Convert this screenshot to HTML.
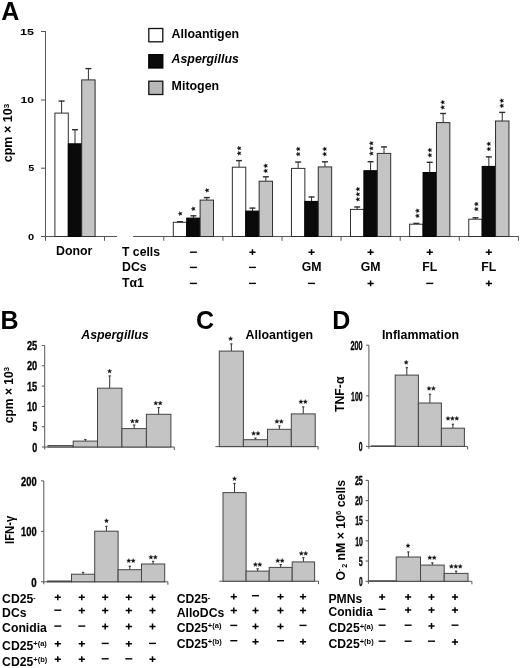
<!DOCTYPE html>
<html><head><meta charset="utf-8"><title>Figure</title>
<style>
html,body{margin:0;padding:0;background:#fff;}
body{width:520px;height:668px;overflow:hidden;}
svg{display:block;will-change:transform;}
text{font-family:"Liberation Sans",sans-serif;fill:#000;}
</style></head><body>
<svg width="520" height="668" viewBox="0 0 520 668">
<rect width="520" height="668" fill="#fff"/>
<text x="1.20" y="20.20" font-size="25" text-anchor="start" font-weight="bold" font-style="normal">A</text>
<line x1="45.50" y1="31.00" x2="45.50" y2="240.80" stroke="#555" stroke-width="1"/>
<line x1="41.00" y1="31.50" x2="45.50" y2="31.50" stroke="#555" stroke-width="1"/>
<line x1="41.00" y1="100.00" x2="45.50" y2="100.00" stroke="#555" stroke-width="1"/>
<line x1="41.00" y1="168.20" x2="45.50" y2="168.20" stroke="#555" stroke-width="1"/>
<line x1="41.00" y1="236.50" x2="45.50" y2="236.50" stroke="#555" stroke-width="1"/>
<text x="34.00" y="34.60" font-size="8.9" text-anchor="end" font-weight="bold" font-style="normal" textLength="13.90" lengthAdjust="spacingAndGlyphs">15</text>
<text x="34.00" y="103.20" font-size="8.9" text-anchor="end" font-weight="bold" font-style="normal" textLength="13.40" lengthAdjust="spacingAndGlyphs">10</text>
<text x="34.20" y="171.20" font-size="8.8" text-anchor="end" font-weight="bold" font-style="normal" textLength="6.00" lengthAdjust="spacingAndGlyphs">5</text>
<text x="34.20" y="239.60" font-size="8.8" text-anchor="end" font-weight="bold" font-style="normal" textLength="6.20" lengthAdjust="spacingAndGlyphs">0</text>
<line x1="41.00" y1="236.50" x2="117.00" y2="236.50" stroke="#555" stroke-width="1"/>
<line x1="104.50" y1="236.50" x2="104.50" y2="240.80" stroke="#555" stroke-width="1"/>
<line x1="133.00" y1="236.50" x2="518.50" y2="236.50" stroke="#555" stroke-width="1"/>
<line x1="163.80" y1="236.50" x2="163.80" y2="240.80" stroke="#555" stroke-width="1"/>
<line x1="222.90" y1="236.50" x2="222.90" y2="240.80" stroke="#555" stroke-width="1"/>
<line x1="282.00" y1="236.50" x2="282.00" y2="240.80" stroke="#555" stroke-width="1"/>
<line x1="341.10" y1="236.50" x2="341.10" y2="240.80" stroke="#555" stroke-width="1"/>
<line x1="400.20" y1="236.50" x2="400.20" y2="240.80" stroke="#555" stroke-width="1"/>
<line x1="459.30" y1="236.50" x2="459.30" y2="240.80" stroke="#555" stroke-width="1"/>
<line x1="518.40" y1="236.50" x2="518.40" y2="240.80" stroke="#555" stroke-width="1"/>
<text transform="translate(12.1,162.3) rotate(-90)" font-size="12.2" font-weight="bold" textLength="58.4" lengthAdjust="spacingAndGlyphs">cpm × 10<tspan font-size="7.8" dy="-3.4">3</tspan></text>
<line x1="61.60" y1="113.10" x2="61.60" y2="100.70" stroke="#2e2e2e" stroke-width="1"/>
<line x1="58.60" y1="101.10" x2="64.60" y2="101.10" stroke="#2e2e2e" stroke-width="1.4"/>
<rect x="54.90" y="113.10" width="13.40" height="123.40" fill="#ffffff" stroke="#2e2e2e" stroke-width="1"/>
<line x1="75.00" y1="143.80" x2="75.00" y2="129.30" stroke="#2e2e2e" stroke-width="1"/>
<line x1="72.00" y1="129.70" x2="78.00" y2="129.70" stroke="#2e2e2e" stroke-width="1.4"/>
<rect x="68.30" y="143.80" width="13.40" height="92.70" fill="#0a0a0a" stroke="#000" stroke-width="1"/>
<line x1="88.40" y1="79.90" x2="88.40" y2="68.20" stroke="#2e2e2e" stroke-width="1"/>
<line x1="85.40" y1="68.60" x2="91.40" y2="68.60" stroke="#2e2e2e" stroke-width="1.4"/>
<rect x="81.70" y="79.90" width="13.40" height="156.60" fill="#c4c4c4" stroke="#2e2e2e" stroke-width="1"/>
<line x1="180.00" y1="222.30" x2="180.00" y2="221.30" stroke="#2e2e2e" stroke-width="1"/>
<line x1="177.00" y1="221.70" x2="183.00" y2="221.70" stroke="#2e2e2e" stroke-width="1.4"/>
<rect x="173.30" y="222.30" width="13.40" height="14.20" fill="#ffffff" stroke="#2e2e2e" stroke-width="1"/>
<line x1="193.40" y1="218.10" x2="193.40" y2="215.40" stroke="#2e2e2e" stroke-width="1"/>
<line x1="190.40" y1="215.80" x2="196.40" y2="215.80" stroke="#2e2e2e" stroke-width="1.4"/>
<rect x="186.70" y="218.10" width="13.40" height="18.40" fill="#0a0a0a" stroke="#000" stroke-width="1"/>
<line x1="206.80" y1="200.10" x2="206.80" y2="197.20" stroke="#2e2e2e" stroke-width="1"/>
<line x1="203.80" y1="197.60" x2="209.80" y2="197.60" stroke="#2e2e2e" stroke-width="1.4"/>
<rect x="200.10" y="200.10" width="13.40" height="36.40" fill="#c4c4c4" stroke="#2e2e2e" stroke-width="1"/>
<line x1="239.05" y1="167.20" x2="239.05" y2="160.20" stroke="#2e2e2e" stroke-width="1"/>
<line x1="236.05" y1="160.60" x2="242.05" y2="160.60" stroke="#2e2e2e" stroke-width="1.4"/>
<rect x="232.35" y="167.20" width="13.40" height="69.30" fill="#ffffff" stroke="#2e2e2e" stroke-width="1"/>
<line x1="252.45" y1="211.10" x2="252.45" y2="207.70" stroke="#2e2e2e" stroke-width="1"/>
<line x1="249.45" y1="208.10" x2="255.45" y2="208.10" stroke="#2e2e2e" stroke-width="1.4"/>
<rect x="245.75" y="211.10" width="13.40" height="25.40" fill="#0a0a0a" stroke="#000" stroke-width="1"/>
<line x1="265.85" y1="181.20" x2="265.85" y2="176.40" stroke="#2e2e2e" stroke-width="1"/>
<line x1="262.85" y1="176.80" x2="268.85" y2="176.80" stroke="#2e2e2e" stroke-width="1.4"/>
<rect x="259.15" y="181.20" width="13.40" height="55.30" fill="#c4c4c4" stroke="#2e2e2e" stroke-width="1"/>
<line x1="298.15" y1="168.40" x2="298.15" y2="161.70" stroke="#2e2e2e" stroke-width="1"/>
<line x1="295.15" y1="162.10" x2="301.15" y2="162.10" stroke="#2e2e2e" stroke-width="1.4"/>
<rect x="291.45" y="168.40" width="13.40" height="68.10" fill="#ffffff" stroke="#2e2e2e" stroke-width="1"/>
<line x1="311.55" y1="201.40" x2="311.55" y2="196.60" stroke="#2e2e2e" stroke-width="1"/>
<line x1="308.55" y1="197.00" x2="314.55" y2="197.00" stroke="#2e2e2e" stroke-width="1.4"/>
<rect x="304.85" y="201.40" width="13.40" height="35.10" fill="#0a0a0a" stroke="#000" stroke-width="1"/>
<line x1="324.95" y1="166.90" x2="324.95" y2="161.40" stroke="#2e2e2e" stroke-width="1"/>
<line x1="321.95" y1="161.80" x2="327.95" y2="161.80" stroke="#2e2e2e" stroke-width="1.4"/>
<rect x="318.25" y="166.90" width="13.40" height="69.60" fill="#c4c4c4" stroke="#2e2e2e" stroke-width="1"/>
<line x1="357.20" y1="209.40" x2="357.20" y2="206.60" stroke="#2e2e2e" stroke-width="1"/>
<line x1="354.20" y1="207.00" x2="360.20" y2="207.00" stroke="#2e2e2e" stroke-width="1.4"/>
<rect x="350.50" y="209.40" width="13.40" height="27.10" fill="#ffffff" stroke="#2e2e2e" stroke-width="1"/>
<line x1="370.60" y1="170.70" x2="370.60" y2="161.30" stroke="#2e2e2e" stroke-width="1"/>
<line x1="367.60" y1="161.70" x2="373.60" y2="161.70" stroke="#2e2e2e" stroke-width="1.4"/>
<rect x="363.90" y="170.70" width="13.40" height="65.80" fill="#0a0a0a" stroke="#000" stroke-width="1"/>
<line x1="384.00" y1="153.40" x2="384.00" y2="146.50" stroke="#2e2e2e" stroke-width="1"/>
<line x1="381.00" y1="146.90" x2="387.00" y2="146.90" stroke="#2e2e2e" stroke-width="1.4"/>
<rect x="377.30" y="153.40" width="13.40" height="83.10" fill="#c4c4c4" stroke="#2e2e2e" stroke-width="1"/>
<line x1="416.35" y1="224.20" x2="416.35" y2="223.00" stroke="#2e2e2e" stroke-width="1"/>
<line x1="413.35" y1="223.40" x2="419.35" y2="223.40" stroke="#2e2e2e" stroke-width="1.4"/>
<rect x="409.65" y="224.20" width="13.40" height="12.30" fill="#ffffff" stroke="#2e2e2e" stroke-width="1"/>
<line x1="429.75" y1="172.50" x2="429.75" y2="161.90" stroke="#2e2e2e" stroke-width="1"/>
<line x1="426.75" y1="162.30" x2="432.75" y2="162.30" stroke="#2e2e2e" stroke-width="1.4"/>
<rect x="423.05" y="172.50" width="13.40" height="64.00" fill="#0a0a0a" stroke="#000" stroke-width="1"/>
<line x1="443.15" y1="122.60" x2="443.15" y2="113.10" stroke="#2e2e2e" stroke-width="1"/>
<line x1="440.15" y1="113.50" x2="446.15" y2="113.50" stroke="#2e2e2e" stroke-width="1.4"/>
<rect x="436.45" y="122.60" width="13.40" height="113.90" fill="#c4c4c4" stroke="#2e2e2e" stroke-width="1"/>
<line x1="475.45" y1="219.20" x2="475.45" y2="217.40" stroke="#2e2e2e" stroke-width="1"/>
<line x1="472.45" y1="217.80" x2="478.45" y2="217.80" stroke="#2e2e2e" stroke-width="1.4"/>
<rect x="468.75" y="219.20" width="13.40" height="17.30" fill="#ffffff" stroke="#2e2e2e" stroke-width="1"/>
<line x1="488.85" y1="166.40" x2="488.85" y2="156.50" stroke="#2e2e2e" stroke-width="1"/>
<line x1="485.85" y1="156.90" x2="491.85" y2="156.90" stroke="#2e2e2e" stroke-width="1.4"/>
<rect x="482.15" y="166.40" width="13.40" height="70.10" fill="#0a0a0a" stroke="#000" stroke-width="1"/>
<line x1="502.25" y1="121.00" x2="502.25" y2="112.00" stroke="#2e2e2e" stroke-width="1"/>
<line x1="499.25" y1="112.40" x2="505.25" y2="112.40" stroke="#2e2e2e" stroke-width="1.4"/>
<rect x="495.55" y="121.00" width="13.40" height="115.50" fill="#c4c4c4" stroke="#2e2e2e" stroke-width="1"/>
<polygon points="178.10,213.60 179.49,213.01 179.62,211.51 180.61,212.65 182.08,212.31 181.30,213.60 182.08,214.89 180.61,214.55 179.62,215.69 179.49,214.19" fill="#111" stroke="#111" stroke-width="0.35" stroke-linejoin="round"/>
<polygon points="191.20,208.80 192.59,208.21 192.72,206.71 193.71,207.85 195.18,207.51 194.40,208.80 195.18,210.09 193.71,209.75 192.72,210.89 192.59,209.39" fill="#111" stroke="#111" stroke-width="0.35" stroke-linejoin="round"/>
<polygon points="204.90,190.30 206.29,189.71 206.42,188.21 207.41,189.35 208.88,189.01 208.10,190.30 208.88,191.59 207.41,191.25 206.42,192.39 206.29,190.89" fill="#111" stroke="#111" stroke-width="0.35" stroke-linejoin="round"/>
<polygon points="237.00,148.20 238.39,147.61 238.52,146.11 239.51,147.25 240.98,146.91 240.20,148.20 240.98,149.49 239.51,149.15 238.52,150.29 238.39,148.79" fill="#111" stroke="#111" stroke-width="0.35" stroke-linejoin="round"/>
<polygon points="237.00,153.30 238.39,152.71 238.52,151.21 239.51,152.35 240.98,152.01 240.20,153.30 240.98,154.59 239.51,154.25 238.52,155.39 238.39,153.89" fill="#111" stroke="#111" stroke-width="0.35" stroke-linejoin="round"/>
<polygon points="263.50,165.80 264.89,165.21 265.02,163.71 266.01,164.85 267.48,164.51 266.70,165.80 267.48,167.09 266.01,166.75 265.02,167.89 264.89,166.39" fill="#111" stroke="#111" stroke-width="0.35" stroke-linejoin="round"/>
<polygon points="263.50,170.90 264.89,170.31 265.02,168.81 266.01,169.95 267.48,169.61 266.70,170.90 267.48,172.19 266.01,171.85 265.02,172.99 264.89,171.49" fill="#111" stroke="#111" stroke-width="0.35" stroke-linejoin="round"/>
<polygon points="296.00,149.00 297.39,148.41 297.52,146.91 298.51,148.05 299.98,147.71 299.20,149.00 299.98,150.29 298.51,149.95 297.52,151.09 297.39,149.59" fill="#111" stroke="#111" stroke-width="0.35" stroke-linejoin="round"/>
<polygon points="296.00,154.10 297.39,153.51 297.52,152.01 298.51,153.15 299.98,152.81 299.20,154.10 299.98,155.39 298.51,155.05 297.52,156.19 297.39,154.69" fill="#111" stroke="#111" stroke-width="0.35" stroke-linejoin="round"/>
<polygon points="322.50,149.00 323.89,148.41 324.02,146.91 325.01,148.05 326.48,147.71 325.70,149.00 326.48,150.29 325.01,149.95 324.02,151.09 323.89,149.59" fill="#111" stroke="#111" stroke-width="0.35" stroke-linejoin="round"/>
<polygon points="322.50,154.10 323.89,153.51 324.02,152.01 325.01,153.15 326.48,152.81 325.70,154.10 326.48,155.39 325.01,155.05 324.02,156.19 323.89,154.69" fill="#111" stroke="#111" stroke-width="0.35" stroke-linejoin="round"/>
<polygon points="355.70,189.15 357.09,188.56 357.22,187.06 358.21,188.20 359.68,187.86 358.90,189.15 359.68,190.44 358.21,190.10 357.22,191.24 357.09,189.74" fill="#111" stroke="#111" stroke-width="0.35" stroke-linejoin="round"/>
<polygon points="355.70,194.25 357.09,193.66 357.22,192.16 358.21,193.30 359.68,192.96 358.90,194.25 359.68,195.54 358.21,195.20 357.22,196.34 357.09,194.84" fill="#111" stroke="#111" stroke-width="0.35" stroke-linejoin="round"/>
<polygon points="355.70,199.35 357.09,198.76 357.22,197.26 358.21,198.40 359.68,198.06 358.90,199.35 359.68,200.64 358.21,200.30 357.22,201.44 357.09,199.94" fill="#111" stroke="#111" stroke-width="0.35" stroke-linejoin="round"/>
<polygon points="369.20,143.30 370.59,142.71 370.72,141.21 371.71,142.35 373.18,142.01 372.40,143.30 373.18,144.59 371.71,144.25 370.72,145.39 370.59,143.89" fill="#111" stroke="#111" stroke-width="0.35" stroke-linejoin="round"/>
<polygon points="369.20,148.40 370.59,147.81 370.72,146.31 371.71,147.45 373.18,147.11 372.40,148.40 373.18,149.69 371.71,149.35 370.72,150.49 370.59,148.99" fill="#111" stroke="#111" stroke-width="0.35" stroke-linejoin="round"/>
<polygon points="369.20,153.50 370.59,152.91 370.72,151.41 371.71,152.55 373.18,152.21 372.40,153.50 373.18,154.79 371.71,154.45 370.72,155.59 370.59,154.09" fill="#111" stroke="#111" stroke-width="0.35" stroke-linejoin="round"/>
<polygon points="415.30,210.75 416.69,210.16 416.82,208.66 417.81,209.80 419.28,209.46 418.50,210.75 419.28,212.04 417.81,211.70 416.82,212.84 416.69,211.34" fill="#111" stroke="#111" stroke-width="0.35" stroke-linejoin="round"/>
<polygon points="415.30,215.85 416.69,215.26 416.82,213.76 417.81,214.90 419.28,214.56 418.50,215.85 419.28,217.14 417.81,216.80 416.82,217.94 416.69,216.44" fill="#111" stroke="#111" stroke-width="0.35" stroke-linejoin="round"/>
<polygon points="427.70,150.10 429.09,149.51 429.22,148.01 430.21,149.15 431.68,148.81 430.90,150.10 431.68,151.39 430.21,151.05 429.22,152.19 429.09,150.69" fill="#111" stroke="#111" stroke-width="0.35" stroke-linejoin="round"/>
<polygon points="427.70,155.20 429.09,154.61 429.22,153.11 430.21,154.25 431.68,153.91 430.90,155.20 431.68,156.49 430.21,156.15 429.22,157.29 429.09,155.79" fill="#111" stroke="#111" stroke-width="0.35" stroke-linejoin="round"/>
<polygon points="440.50,102.25 441.89,101.66 442.02,100.16 443.01,101.30 444.48,100.96 443.70,102.25 444.48,103.54 443.01,103.20 442.02,104.34 441.89,102.84" fill="#111" stroke="#111" stroke-width="0.35" stroke-linejoin="round"/>
<polygon points="440.50,107.35 441.89,106.76 442.02,105.26 443.01,106.40 444.48,106.06 443.70,107.35 444.48,108.64 443.01,108.30 442.02,109.44 441.89,107.94" fill="#111" stroke="#111" stroke-width="0.35" stroke-linejoin="round"/>
<polygon points="474.20,204.05 475.59,203.46 475.72,201.96 476.71,203.10 478.18,202.76 477.40,204.05 478.18,205.34 476.71,205.00 475.72,206.14 475.59,204.64" fill="#111" stroke="#111" stroke-width="0.35" stroke-linejoin="round"/>
<polygon points="474.20,209.15 475.59,208.56 475.72,207.06 476.71,208.20 478.18,207.86 477.40,209.15 478.18,210.44 476.71,210.10 475.72,211.24 475.59,209.74" fill="#111" stroke="#111" stroke-width="0.35" stroke-linejoin="round"/>
<polygon points="486.60,143.90 487.99,143.31 488.12,141.81 489.11,142.95 490.58,142.61 489.80,143.90 490.58,145.19 489.11,144.85 488.12,145.99 487.99,144.49" fill="#111" stroke="#111" stroke-width="0.35" stroke-linejoin="round"/>
<polygon points="486.60,149.00 487.99,148.41 488.12,146.91 489.11,148.05 490.58,147.71 489.80,149.00 490.58,150.29 489.11,149.95 488.12,151.09 487.99,149.59" fill="#111" stroke="#111" stroke-width="0.35" stroke-linejoin="round"/>
<polygon points="499.60,100.70 500.99,100.11 501.12,98.61 502.11,99.75 503.58,99.41 502.80,100.70 503.58,101.99 502.11,101.65 501.12,102.79 500.99,101.29" fill="#111" stroke="#111" stroke-width="0.35" stroke-linejoin="round"/>
<polygon points="499.60,105.80 500.99,105.21 501.12,103.71 502.11,104.85 503.58,104.51 502.80,105.80 503.58,107.09 502.11,106.75 501.12,107.89 500.99,106.39" fill="#111" stroke="#111" stroke-width="0.35" stroke-linejoin="round"/>
<rect x="148.80" y="28.50" width="14.00" height="13.30" fill="#fff" stroke="#111" stroke-width="1.3"/>
<rect x="148.80" y="54.70" width="14.00" height="13.30" fill="#0a0a0a" stroke="#000" stroke-width="1.3"/>
<rect x="148.80" y="81.20" width="14.00" height="13.30" fill="#b8b8b8" stroke="#111" stroke-width="1.3"/>
<text x="171.60" y="37.50" font-size="12.4" text-anchor="start" font-weight="bold" font-style="normal" textLength="67.60" lengthAdjust="spacingAndGlyphs">Alloantigen</text>
<text x="171.60" y="63.00" font-size="12.4" text-anchor="start" font-weight="bold" font-style="italic" textLength="67.20" lengthAdjust="spacingAndGlyphs">Aspergillus</text>
<text x="171.60" y="90.00" font-size="12.4" text-anchor="start" font-weight="bold" font-style="normal" textLength="47.60" lengthAdjust="spacingAndGlyphs">Mitogen</text>
<text x="56.00" y="255.20" font-size="12.3" text-anchor="start" font-weight="bold" font-style="normal" textLength="36.40" lengthAdjust="spacingAndGlyphs">Donor</text>
<text x="122.00" y="255.80" font-size="12.3" text-anchor="start" font-weight="bold" font-style="normal" textLength="38.00" lengthAdjust="spacingAndGlyphs">T cells</text>
<text x="122.00" y="270.80" font-size="12.3" text-anchor="start" font-weight="bold" font-style="normal">DCs</text>
<text x="122.00" y="286.80" font-size="12.3" text-anchor="start" font-weight="bold" font-style="normal">Tα1</text>
<path d="M189.90 252.20H196.90" stroke="#000" stroke-width="1.4" fill="none"/>
<path d="M249.35 252.20H255.55M252.45 249.30V255.10" stroke="#000" stroke-width="1.5" fill="none"/>
<path d="M308.45 252.20H314.65M311.55 249.30V255.10" stroke="#000" stroke-width="1.5" fill="none"/>
<path d="M367.50 252.20H373.70M370.60 249.30V255.10" stroke="#000" stroke-width="1.5" fill="none"/>
<path d="M426.65 252.20H432.85M429.75 249.30V255.10" stroke="#000" stroke-width="1.5" fill="none"/>
<path d="M485.75 252.20H491.95M488.85 249.30V255.10" stroke="#000" stroke-width="1.5" fill="none"/>
<path d="M189.90 267.40H196.90" stroke="#000" stroke-width="1.4" fill="none"/>
<path d="M248.95 267.40H255.95" stroke="#000" stroke-width="1.4" fill="none"/>
<text x="311.55" y="270.80" font-size="12.3" text-anchor="middle" font-weight="bold" font-style="normal">GM</text>
<text x="370.60" y="270.80" font-size="12.3" text-anchor="middle" font-weight="bold" font-style="normal">GM</text>
<text x="429.75" y="270.80" font-size="12.3" text-anchor="middle" font-weight="bold" font-style="normal">FL</text>
<text x="488.85" y="270.80" font-size="12.3" text-anchor="middle" font-weight="bold" font-style="normal">FL</text>
<path d="M189.90 283.40H196.90" stroke="#000" stroke-width="1.4" fill="none"/>
<path d="M248.95 283.40H255.95" stroke="#000" stroke-width="1.4" fill="none"/>
<path d="M308.05 283.40H315.05" stroke="#000" stroke-width="1.4" fill="none"/>
<path d="M367.50 283.40H373.70M370.60 280.50V286.30" stroke="#000" stroke-width="1.5" fill="none"/>
<path d="M426.25 283.40H433.25" stroke="#000" stroke-width="1.4" fill="none"/>
<path d="M485.75 283.40H491.95M488.85 280.50V286.30" stroke="#000" stroke-width="1.5" fill="none"/>
<text x="0.60" y="329.00" font-size="25" text-anchor="start" font-weight="bold" font-style="normal">B</text>
<text x="81.20" y="338.80" font-size="12.4" text-anchor="start" font-weight="bold" font-style="italic" textLength="67.50" lengthAdjust="spacingAndGlyphs">Aspergillus</text>
<line x1="44.70" y1="345.50" x2="44.70" y2="449.50" stroke="#555" stroke-width="1"/>
<line x1="41.90" y1="345.50" x2="44.70" y2="345.50" stroke="#555" stroke-width="1"/>
<line x1="41.90" y1="365.80" x2="44.70" y2="365.80" stroke="#555" stroke-width="1"/>
<line x1="41.90" y1="386.10" x2="44.70" y2="386.10" stroke="#555" stroke-width="1"/>
<line x1="41.90" y1="406.40" x2="44.70" y2="406.40" stroke="#555" stroke-width="1"/>
<line x1="41.90" y1="426.70" x2="44.70" y2="426.70" stroke="#555" stroke-width="1"/>
<line x1="41.90" y1="447.00" x2="44.70" y2="447.00" stroke="#555" stroke-width="1"/>
<line x1="44.70" y1="447.00" x2="174.30" y2="447.00" stroke="#555" stroke-width="1"/>
<line x1="174.30" y1="447.00" x2="174.30" y2="450.00" stroke="#555" stroke-width="1"/>
<text x="37.20" y="350.15" font-size="12.0" text-anchor="end" font-weight="bold" font-style="normal" textLength="10.30" lengthAdjust="spacingAndGlyphs" stroke="#000" stroke-width="0.35">25</text>
<text x="37.20" y="370.45" font-size="12.0" text-anchor="end" font-weight="bold" font-style="normal" textLength="10.30" lengthAdjust="spacingAndGlyphs" stroke="#000" stroke-width="0.35">20</text>
<text x="37.20" y="390.75" font-size="12.0" text-anchor="end" font-weight="bold" font-style="normal" textLength="10.30" lengthAdjust="spacingAndGlyphs" stroke="#000" stroke-width="0.35">15</text>
<text x="37.20" y="411.05" font-size="12.0" text-anchor="end" font-weight="bold" font-style="normal" textLength="10.30" lengthAdjust="spacingAndGlyphs" stroke="#000" stroke-width="0.35">10</text>
<text x="37.20" y="431.35" font-size="12.0" text-anchor="end" font-weight="bold" font-style="normal" textLength="4.80" lengthAdjust="spacingAndGlyphs" stroke="#000" stroke-width="0.35">5</text>
<text x="37.20" y="451.65" font-size="12.0" text-anchor="end" font-weight="bold" font-style="normal" textLength="5.00" lengthAdjust="spacingAndGlyphs" stroke="#000" stroke-width="0.35">0</text>
<text transform="translate(12.5,423.2) rotate(-90)" font-size="12.3" font-weight="bold" textLength="56.2" lengthAdjust="spacingAndGlyphs">cpm × 10<tspan font-size="7.8" dy="-3.4">3</tspan></text>
<rect x="48.00" y="445.60" width="25.20" height="1.40" fill="#c4c4c4" stroke="#444" stroke-width="1"/>
<line x1="85.35" y1="441.10" x2="85.35" y2="439.60" stroke="#2e2e2e" stroke-width="1"/>
<line x1="84.15" y1="439.60" x2="86.55" y2="439.60" stroke="#2e2e2e" stroke-width="1"/>
<rect x="73.20" y="441.10" width="24.30" height="5.90" fill="#c4c4c4" stroke="#444" stroke-width="1"/>
<line x1="109.70" y1="388.20" x2="109.70" y2="375.90" stroke="#2e2e2e" stroke-width="1"/>
<line x1="108.50" y1="375.90" x2="110.90" y2="375.90" stroke="#2e2e2e" stroke-width="1"/>
<rect x="97.50" y="388.20" width="24.40" height="58.80" fill="#c4c4c4" stroke="#444" stroke-width="1"/>
<line x1="134.15" y1="428.60" x2="134.15" y2="425.00" stroke="#2e2e2e" stroke-width="1"/>
<line x1="132.95" y1="425.00" x2="135.35" y2="425.00" stroke="#2e2e2e" stroke-width="1"/>
<rect x="121.90" y="428.60" width="24.50" height="18.40" fill="#c4c4c4" stroke="#444" stroke-width="1"/>
<line x1="158.65" y1="414.30" x2="158.65" y2="407.60" stroke="#2e2e2e" stroke-width="1"/>
<line x1="157.45" y1="407.60" x2="159.85" y2="407.60" stroke="#2e2e2e" stroke-width="1"/>
<rect x="146.40" y="414.30" width="24.50" height="32.70" fill="#c4c4c4" stroke="#444" stroke-width="1"/>
<polygon points="109.60,369.10 110.19,370.49 111.69,370.62 110.55,371.61 110.89,373.08 109.60,372.30 108.31,373.08 108.65,371.61 107.51,370.62 109.01,370.49" fill="#111" stroke="#111" stroke-width="0.35" stroke-linejoin="round"/>
<polygon points="132.40,419.00 132.99,420.39 134.49,420.52 133.35,421.51 133.69,422.98 132.40,422.20 131.11,422.98 131.45,421.51 130.31,420.52 131.81,420.39" fill="#111" stroke="#111" stroke-width="0.35" stroke-linejoin="round"/>
<polygon points="136.80,419.00 137.39,420.39 138.89,420.52 137.75,421.51 138.09,422.98 136.80,422.20 135.51,422.98 135.85,421.51 134.71,420.52 136.21,420.39" fill="#111" stroke="#111" stroke-width="0.35" stroke-linejoin="round"/>
<polygon points="155.80,401.00 156.39,402.39 157.89,402.52 156.75,403.51 157.09,404.98 155.80,404.20 154.51,404.98 154.85,403.51 153.71,402.52 155.21,402.39" fill="#111" stroke="#111" stroke-width="0.35" stroke-linejoin="round"/>
<polygon points="160.20,401.00 160.79,402.39 162.29,402.52 161.15,403.51 161.49,404.98 160.20,404.20 158.91,404.98 159.25,403.51 158.11,402.52 159.61,402.39" fill="#111" stroke="#111" stroke-width="0.35" stroke-linejoin="round"/>
<line x1="43.80" y1="480.90" x2="43.80" y2="584.30" stroke="#555" stroke-width="1"/>
<line x1="41.00" y1="480.90" x2="43.80" y2="480.90" stroke="#555" stroke-width="1"/>
<line x1="41.00" y1="531.40" x2="43.80" y2="531.40" stroke="#555" stroke-width="1"/>
<line x1="41.00" y1="581.80" x2="43.80" y2="581.80" stroke="#555" stroke-width="1"/>
<line x1="43.80" y1="581.80" x2="167.90" y2="581.80" stroke="#555" stroke-width="1"/>
<line x1="167.90" y1="581.80" x2="167.90" y2="584.80" stroke="#555" stroke-width="1"/>
<text x="36.60" y="485.60" font-size="12.14" text-anchor="end" font-weight="bold" font-style="normal" textLength="15.50" lengthAdjust="spacingAndGlyphs" stroke="#000" stroke-width="0.35">200</text>
<text x="36.60" y="536.10" font-size="12.14" text-anchor="end" font-weight="bold" font-style="normal" textLength="15.50" lengthAdjust="spacingAndGlyphs" stroke="#000" stroke-width="0.35">100</text>
<text x="36.60" y="586.50" font-size="12.14" text-anchor="end" font-weight="bold" font-style="normal" textLength="5.40" lengthAdjust="spacingAndGlyphs" stroke="#000" stroke-width="0.35">0</text>
<text transform="translate(13.8,543.9) rotate(-90)" font-size="12" font-weight="bold" textLength="28.2" lengthAdjust="spacingAndGlyphs">IFN-γ</text>
<rect x="47.50" y="581.00" width="24.00" height="0.80" fill="#c4c4c4" stroke="#444" stroke-width="1"/>
<line x1="83.10" y1="574.20" x2="83.10" y2="572.30" stroke="#2e2e2e" stroke-width="1"/>
<line x1="81.90" y1="572.30" x2="84.30" y2="572.30" stroke="#2e2e2e" stroke-width="1"/>
<rect x="71.50" y="574.20" width="23.20" height="7.60" fill="#c4c4c4" stroke="#444" stroke-width="1"/>
<line x1="106.40" y1="531.20" x2="106.40" y2="526.30" stroke="#2e2e2e" stroke-width="1"/>
<line x1="105.20" y1="526.30" x2="107.60" y2="526.30" stroke="#2e2e2e" stroke-width="1"/>
<rect x="94.70" y="531.20" width="23.40" height="50.60" fill="#c4c4c4" stroke="#444" stroke-width="1"/>
<line x1="129.80" y1="569.70" x2="129.80" y2="566.20" stroke="#2e2e2e" stroke-width="1"/>
<line x1="128.60" y1="566.20" x2="131.00" y2="566.20" stroke="#2e2e2e" stroke-width="1"/>
<rect x="118.10" y="569.70" width="23.40" height="12.10" fill="#c4c4c4" stroke="#444" stroke-width="1"/>
<line x1="153.10" y1="564.00" x2="153.10" y2="561.30" stroke="#2e2e2e" stroke-width="1"/>
<line x1="151.90" y1="561.30" x2="154.30" y2="561.30" stroke="#2e2e2e" stroke-width="1"/>
<rect x="141.50" y="564.00" width="23.20" height="17.80" fill="#c4c4c4" stroke="#444" stroke-width="1"/>
<polygon points="106.50,518.70 107.09,520.09 108.59,520.22 107.45,521.21 107.79,522.68 106.50,521.90 105.21,522.68 105.55,521.21 104.41,520.22 105.91,520.09" fill="#111" stroke="#111" stroke-width="0.35" stroke-linejoin="round"/>
<polygon points="128.80,558.60 129.39,559.99 130.89,560.12 129.75,561.11 130.09,562.58 128.80,561.80 127.51,562.58 127.85,561.11 126.71,560.12 128.21,559.99" fill="#111" stroke="#111" stroke-width="0.35" stroke-linejoin="round"/>
<polygon points="133.20,558.60 133.79,559.99 135.29,560.12 134.15,561.11 134.49,562.58 133.20,561.80 131.91,562.58 132.25,561.11 131.11,560.12 132.61,559.99" fill="#111" stroke="#111" stroke-width="0.35" stroke-linejoin="round"/>
<polygon points="150.90,555.10 151.49,556.49 152.99,556.62 151.85,557.61 152.19,559.08 150.90,558.30 149.61,559.08 149.95,557.61 148.81,556.62 150.31,556.49" fill="#111" stroke="#111" stroke-width="0.35" stroke-linejoin="round"/>
<polygon points="155.30,555.10 155.89,556.49 157.39,556.62 156.25,557.61 156.59,559.08 155.30,558.30 154.01,559.08 154.35,557.61 153.21,556.62 154.71,556.49" fill="#111" stroke="#111" stroke-width="0.35" stroke-linejoin="round"/>
<text x="2.10" y="603.40" font-size="12.2" text-anchor="start" font-weight="bold" font-style="normal">CD25<tspan font-size="7" dy="-3.2">-</tspan></text>
<text x="2.10" y="617.40" font-size="12.2" text-anchor="start" font-weight="bold" font-style="normal">DCs</text>
<text x="2.10" y="631.50" font-size="12.2" text-anchor="start" font-weight="bold" font-style="normal" textLength="44.80" lengthAdjust="spacingAndGlyphs">Conidia</text>
<text x="2.10" y="649.80" font-size="12.2" text-anchor="start" font-weight="bold" font-style="normal">CD25<tspan font-size="7.5" dy="-3.7">+(a)</tspan></text>
<text x="2.10" y="665.60" font-size="12.2" text-anchor="start" font-weight="bold" font-style="normal">CD25<tspan font-size="7.5" dy="-3.7">+(b)</tspan></text>
<path d="M54.70 597.30H60.90M57.80 594.40V600.20" stroke="#000" stroke-width="1.5" fill="none"/>
<path d="M78.70 597.30H84.90M81.80 594.40V600.20" stroke="#000" stroke-width="1.5" fill="none"/>
<path d="M102.10 597.30H108.30M105.20 594.40V600.20" stroke="#000" stroke-width="1.5" fill="none"/>
<path d="M125.70 597.30H131.90M128.80 594.40V600.20" stroke="#000" stroke-width="1.5" fill="none"/>
<path d="M149.40 597.30H155.60M152.50 594.40V600.20" stroke="#000" stroke-width="1.5" fill="none"/>
<path d="M54.30 610.20H61.30" stroke="#000" stroke-width="1.4" fill="none"/>
<path d="M78.70 610.60H84.90M81.80 607.70V613.50" stroke="#000" stroke-width="1.5" fill="none"/>
<path d="M102.10 610.60H108.30M105.20 607.70V613.50" stroke="#000" stroke-width="1.5" fill="none"/>
<path d="M125.70 610.60H131.90M128.80 607.70V613.50" stroke="#000" stroke-width="1.5" fill="none"/>
<path d="M149.40 610.60H155.60M152.50 607.70V613.50" stroke="#000" stroke-width="1.5" fill="none"/>
<path d="M54.30 626.10H61.30" stroke="#000" stroke-width="1.4" fill="none"/>
<path d="M78.30 626.10H85.30" stroke="#000" stroke-width="1.4" fill="none"/>
<path d="M102.10 626.50H108.30M105.20 623.60V629.40" stroke="#000" stroke-width="1.5" fill="none"/>
<path d="M125.70 626.50H131.90M128.80 623.60V629.40" stroke="#000" stroke-width="1.5" fill="none"/>
<path d="M149.40 626.50H155.60M152.50 623.60V629.40" stroke="#000" stroke-width="1.5" fill="none"/>
<path d="M54.70 643.80H60.90M57.80 640.90V646.70" stroke="#000" stroke-width="1.5" fill="none"/>
<path d="M78.70 643.80H84.90M81.80 640.90V646.70" stroke="#000" stroke-width="1.5" fill="none"/>
<path d="M101.70 643.40H108.70" stroke="#000" stroke-width="1.4" fill="none"/>
<path d="M125.70 643.80H131.90M128.80 640.90V646.70" stroke="#000" stroke-width="1.5" fill="none"/>
<path d="M149.00 643.40H156.00" stroke="#000" stroke-width="1.4" fill="none"/>
<path d="M54.70 659.20H60.90M57.80 656.30V662.10" stroke="#000" stroke-width="1.5" fill="none"/>
<path d="M78.70 659.20H84.90M81.80 656.30V662.10" stroke="#000" stroke-width="1.5" fill="none"/>
<path d="M101.70 658.80H108.70" stroke="#000" stroke-width="1.4" fill="none"/>
<path d="M125.30 658.80H132.30" stroke="#000" stroke-width="1.4" fill="none"/>
<path d="M149.40 659.20H155.60M152.50 656.30V662.10" stroke="#000" stroke-width="1.5" fill="none"/>
<text x="196.00" y="329.00" font-size="25" text-anchor="start" font-weight="bold" font-style="normal">C</text>
<text x="245.60" y="338.60" font-size="12.4" text-anchor="start" font-weight="bold" font-style="normal" textLength="67.60" lengthAdjust="spacingAndGlyphs">Alloantigen</text>
<line x1="215.40" y1="446.60" x2="318.10" y2="446.60" stroke="#555" stroke-width="1"/>
<line x1="318.10" y1="446.60" x2="318.10" y2="449.60" stroke="#555" stroke-width="1"/>
<line x1="231.35" y1="351.10" x2="231.35" y2="343.90" stroke="#2e2e2e" stroke-width="1"/>
<line x1="230.15" y1="343.90" x2="232.55" y2="343.90" stroke="#2e2e2e" stroke-width="1"/>
<rect x="219.30" y="351.10" width="24.10" height="95.50" fill="#c4c4c4" stroke="#444" stroke-width="1"/>
<line x1="255.45" y1="439.70" x2="255.45" y2="438.10" stroke="#2e2e2e" stroke-width="1"/>
<line x1="254.25" y1="438.10" x2="256.65" y2="438.10" stroke="#2e2e2e" stroke-width="1"/>
<rect x="243.40" y="439.70" width="24.10" height="6.90" fill="#c4c4c4" stroke="#444" stroke-width="1"/>
<line x1="279.40" y1="429.30" x2="279.40" y2="425.90" stroke="#2e2e2e" stroke-width="1"/>
<line x1="278.20" y1="425.90" x2="280.60" y2="425.90" stroke="#2e2e2e" stroke-width="1"/>
<rect x="267.50" y="429.30" width="23.80" height="17.30" fill="#c4c4c4" stroke="#444" stroke-width="1"/>
<line x1="303.25" y1="413.90" x2="303.25" y2="406.90" stroke="#2e2e2e" stroke-width="1"/>
<line x1="302.05" y1="406.90" x2="304.45" y2="406.90" stroke="#2e2e2e" stroke-width="1"/>
<rect x="291.30" y="413.90" width="23.90" height="32.70" fill="#c4c4c4" stroke="#444" stroke-width="1"/>
<polygon points="230.60,336.50 231.19,337.89 232.69,338.02 231.55,339.01 231.89,340.48 230.60,339.70 229.31,340.48 229.65,339.01 228.51,338.02 230.01,337.89" fill="#111" stroke="#111" stroke-width="0.35" stroke-linejoin="round"/>
<polygon points="253.60,431.30 254.19,432.69 255.69,432.82 254.55,433.81 254.89,435.28 253.60,434.50 252.31,435.28 252.65,433.81 251.51,432.82 253.01,432.69" fill="#111" stroke="#111" stroke-width="0.35" stroke-linejoin="round"/>
<polygon points="258.00,431.30 258.59,432.69 260.09,432.82 258.95,433.81 259.29,435.28 258.00,434.50 256.71,435.28 257.05,433.81 255.91,432.82 257.41,432.69" fill="#111" stroke="#111" stroke-width="0.35" stroke-linejoin="round"/>
<polygon points="276.90,419.30 277.49,420.69 278.99,420.82 277.85,421.81 278.19,423.28 276.90,422.50 275.61,423.28 275.95,421.81 274.81,420.82 276.31,420.69" fill="#111" stroke="#111" stroke-width="0.35" stroke-linejoin="round"/>
<polygon points="281.30,419.30 281.89,420.69 283.39,420.82 282.25,421.81 282.59,423.28 281.30,422.50 280.01,423.28 280.35,421.81 279.21,420.82 280.71,420.69" fill="#111" stroke="#111" stroke-width="0.35" stroke-linejoin="round"/>
<polygon points="300.90,399.60 301.49,400.99 302.99,401.12 301.85,402.11 302.19,403.58 300.90,402.80 299.61,403.58 299.95,402.11 298.81,401.12 300.31,400.99" fill="#111" stroke="#111" stroke-width="0.35" stroke-linejoin="round"/>
<polygon points="305.30,399.60 305.89,400.99 307.39,401.12 306.25,402.11 306.59,403.58 305.30,402.80 304.01,403.58 304.35,402.11 303.21,401.12 304.71,400.99" fill="#111" stroke="#111" stroke-width="0.35" stroke-linejoin="round"/>
<line x1="219.30" y1="581.20" x2="318.50" y2="581.20" stroke="#555" stroke-width="1"/>
<line x1="318.50" y1="581.20" x2="318.50" y2="584.20" stroke="#555" stroke-width="1"/>
<line x1="234.55" y1="492.60" x2="234.55" y2="483.40" stroke="#2e2e2e" stroke-width="1"/>
<line x1="233.35" y1="483.40" x2="235.75" y2="483.40" stroke="#2e2e2e" stroke-width="1"/>
<rect x="223.00" y="492.60" width="23.10" height="88.60" fill="#c4c4c4" stroke="#444" stroke-width="1"/>
<line x1="257.65" y1="571.10" x2="257.65" y2="568.80" stroke="#2e2e2e" stroke-width="1"/>
<line x1="256.45" y1="568.80" x2="258.85" y2="568.80" stroke="#2e2e2e" stroke-width="1"/>
<rect x="246.10" y="571.10" width="23.10" height="10.10" fill="#c4c4c4" stroke="#444" stroke-width="1"/>
<line x1="280.70" y1="567.40" x2="280.70" y2="564.60" stroke="#2e2e2e" stroke-width="1"/>
<line x1="279.50" y1="564.60" x2="281.90" y2="564.60" stroke="#2e2e2e" stroke-width="1"/>
<rect x="269.20" y="567.40" width="23.00" height="13.80" fill="#c4c4c4" stroke="#444" stroke-width="1"/>
<line x1="303.40" y1="561.90" x2="303.40" y2="557.70" stroke="#2e2e2e" stroke-width="1"/>
<line x1="302.20" y1="557.70" x2="304.60" y2="557.70" stroke="#2e2e2e" stroke-width="1"/>
<rect x="292.20" y="561.90" width="22.40" height="19.30" fill="#c4c4c4" stroke="#444" stroke-width="1"/>
<polygon points="234.50,476.60 235.09,477.99 236.59,478.12 235.45,479.11 235.79,480.58 234.50,479.80 233.21,480.58 233.55,479.11 232.41,478.12 233.91,477.99" fill="#111" stroke="#111" stroke-width="0.35" stroke-linejoin="round"/>
<polygon points="255.40,562.40 255.99,563.79 257.49,563.92 256.35,564.91 256.69,566.38 255.40,565.60 254.11,566.38 254.45,564.91 253.31,563.92 254.81,563.79" fill="#111" stroke="#111" stroke-width="0.35" stroke-linejoin="round"/>
<polygon points="259.80,562.40 260.39,563.79 261.89,563.92 260.75,564.91 261.09,566.38 259.80,565.60 258.51,566.38 258.85,564.91 257.71,563.92 259.21,563.79" fill="#111" stroke="#111" stroke-width="0.35" stroke-linejoin="round"/>
<polygon points="277.80,558.50 278.39,559.89 279.89,560.02 278.75,561.01 279.09,562.48 277.80,561.70 276.51,562.48 276.85,561.01 275.71,560.02 277.21,559.89" fill="#111" stroke="#111" stroke-width="0.35" stroke-linejoin="round"/>
<polygon points="282.20,558.50 282.79,559.89 284.29,560.02 283.15,561.01 283.49,562.48 282.20,561.70 280.91,562.48 281.25,561.01 280.11,560.02 281.61,559.89" fill="#111" stroke="#111" stroke-width="0.35" stroke-linejoin="round"/>
<polygon points="301.30,551.30 301.89,552.69 303.39,552.82 302.25,553.81 302.59,555.28 301.30,554.50 300.01,555.28 300.35,553.81 299.21,552.82 300.71,552.69" fill="#111" stroke="#111" stroke-width="0.35" stroke-linejoin="round"/>
<polygon points="305.70,551.30 306.29,552.69 307.79,552.82 306.65,553.81 306.99,555.28 305.70,554.50 304.41,555.28 304.75,553.81 303.61,552.82 305.11,552.69" fill="#111" stroke="#111" stroke-width="0.35" stroke-linejoin="round"/>
<text x="176.70" y="602.70" font-size="12.2" text-anchor="start" font-weight="bold" font-style="normal">CD25<tspan font-size="7" dy="-3.2">-</tspan></text>
<text x="176.70" y="616.60" font-size="12.2" text-anchor="start" font-weight="bold" font-style="normal" textLength="47.60" lengthAdjust="spacingAndGlyphs">AlloDCs</text>
<text x="176.70" y="632.10" font-size="12.2" text-anchor="start" font-weight="bold" font-style="normal">CD25<tspan font-size="7.5" dy="-3.7">+(a)</tspan></text>
<text x="176.70" y="647.70" font-size="12.2" text-anchor="start" font-weight="bold" font-style="normal">CD25<tspan font-size="7.5" dy="-3.7">+(b)</tspan></text>
<path d="M230.70 596.70H236.90M233.80 593.80V599.60" stroke="#000" stroke-width="1.5" fill="none"/>
<path d="M252.00 595.70H259.00" stroke="#000" stroke-width="1.4" fill="none"/>
<path d="M277.40 596.70H283.60M280.50 593.80V599.60" stroke="#000" stroke-width="1.5" fill="none"/>
<path d="M299.90 596.70H306.10M303.00 593.80V599.60" stroke="#000" stroke-width="1.5" fill="none"/>
<path d="M230.70 610.50H236.90M233.80 607.60V613.40" stroke="#000" stroke-width="1.5" fill="none"/>
<path d="M252.40 610.50H258.60M255.50 607.60V613.40" stroke="#000" stroke-width="1.5" fill="none"/>
<path d="M277.40 610.50H283.60M280.50 607.60V613.40" stroke="#000" stroke-width="1.5" fill="none"/>
<path d="M299.90 610.50H306.10M303.00 607.60V613.40" stroke="#000" stroke-width="1.5" fill="none"/>
<path d="M230.30 625.40H237.30" stroke="#000" stroke-width="1.4" fill="none"/>
<path d="M252.40 626.40H258.60M255.50 623.50V629.30" stroke="#000" stroke-width="1.5" fill="none"/>
<path d="M277.40 626.40H283.60M280.50 623.50V629.30" stroke="#000" stroke-width="1.5" fill="none"/>
<path d="M299.50 625.40H306.50" stroke="#000" stroke-width="1.4" fill="none"/>
<path d="M230.30 640.70H237.30" stroke="#000" stroke-width="1.4" fill="none"/>
<path d="M252.40 641.70H258.60M255.50 638.80V644.60" stroke="#000" stroke-width="1.5" fill="none"/>
<path d="M277.00 640.70H284.00" stroke="#000" stroke-width="1.4" fill="none"/>
<path d="M299.90 641.70H306.10M303.00 638.80V644.60" stroke="#000" stroke-width="1.5" fill="none"/>
<text x="332.20" y="329.00" font-size="25" text-anchor="start" font-weight="bold" font-style="normal">D</text>
<text x="381.90" y="338.70" font-size="12.4" text-anchor="start" font-weight="bold" font-style="normal" textLength="77.20" lengthAdjust="spacingAndGlyphs">Inflammation</text>
<line x1="368.90" y1="345.20" x2="368.90" y2="448.90" stroke="#555" stroke-width="1"/>
<line x1="366.10" y1="345.20" x2="368.90" y2="345.20" stroke="#555" stroke-width="1"/>
<line x1="366.10" y1="395.80" x2="368.90" y2="395.80" stroke="#555" stroke-width="1"/>
<line x1="366.10" y1="446.40" x2="368.90" y2="446.40" stroke="#555" stroke-width="1"/>
<line x1="368.90" y1="446.40" x2="467.60" y2="446.40" stroke="#555" stroke-width="1"/>
<line x1="467.60" y1="446.40" x2="467.60" y2="449.40" stroke="#555" stroke-width="1"/>
<text x="362.60" y="349.95" font-size="12.28" text-anchor="end" font-weight="bold" font-style="normal" textLength="12.10" lengthAdjust="spacingAndGlyphs" stroke="#000" stroke-width="0.35">200</text>
<text x="362.60" y="400.55" font-size="12.28" text-anchor="end" font-weight="bold" font-style="normal" textLength="11.50" lengthAdjust="spacingAndGlyphs" stroke="#000" stroke-width="0.35">100</text>
<text x="362.60" y="451.15" font-size="12.28" text-anchor="end" font-weight="bold" font-style="normal" textLength="3.80" lengthAdjust="spacingAndGlyphs" stroke="#000" stroke-width="0.35">0</text>
<text transform="translate(344.1,411.9) rotate(-90)" font-size="12" font-weight="bold" textLength="35.3" lengthAdjust="spacingAndGlyphs">TNF-α</text>
<rect x="371.60" y="445.90" width="23.60" height="0.50" fill="#c4c4c4" stroke="#444" stroke-width="1"/>
<line x1="406.80" y1="375.10" x2="406.80" y2="367.70" stroke="#2e2e2e" stroke-width="1"/>
<line x1="405.60" y1="367.70" x2="408.00" y2="367.70" stroke="#2e2e2e" stroke-width="1"/>
<rect x="395.20" y="375.10" width="23.20" height="71.30" fill="#c4c4c4" stroke="#444" stroke-width="1"/>
<line x1="429.90" y1="403.00" x2="429.90" y2="394.20" stroke="#2e2e2e" stroke-width="1"/>
<line x1="428.70" y1="394.20" x2="431.10" y2="394.20" stroke="#2e2e2e" stroke-width="1"/>
<rect x="418.40" y="403.00" width="23.00" height="43.40" fill="#c4c4c4" stroke="#444" stroke-width="1"/>
<line x1="452.90" y1="428.20" x2="452.90" y2="424.20" stroke="#2e2e2e" stroke-width="1"/>
<line x1="451.70" y1="424.20" x2="454.10" y2="424.20" stroke="#2e2e2e" stroke-width="1"/>
<rect x="441.40" y="428.20" width="23.00" height="18.20" fill="#c4c4c4" stroke="#444" stroke-width="1"/>
<polygon points="406.20,360.20 406.79,361.59 408.29,361.72 407.15,362.71 407.49,364.18 406.20,363.40 404.91,364.18 405.25,362.71 404.11,361.72 405.61,361.59" fill="#111" stroke="#111" stroke-width="0.35" stroke-linejoin="round"/>
<polygon points="429.00,386.30 429.59,387.69 431.09,387.82 429.95,388.81 430.29,390.28 429.00,389.50 427.71,390.28 428.05,388.81 426.91,387.82 428.41,387.69" fill="#111" stroke="#111" stroke-width="0.35" stroke-linejoin="round"/>
<polygon points="433.40,386.30 433.99,387.69 435.49,387.82 434.35,388.81 434.69,390.28 433.40,389.50 432.11,390.28 432.45,388.81 431.31,387.82 432.81,387.69" fill="#111" stroke="#111" stroke-width="0.35" stroke-linejoin="round"/>
<polygon points="448.00,416.30 448.59,417.69 450.09,417.82 448.95,418.81 449.29,420.28 448.00,419.50 446.71,420.28 447.05,418.81 445.91,417.82 447.41,417.69" fill="#111" stroke="#111" stroke-width="0.35" stroke-linejoin="round"/>
<polygon points="452.40,416.30 452.99,417.69 454.49,417.82 453.35,418.81 453.69,420.28 452.40,419.50 451.11,420.28 451.45,418.81 450.31,417.82 451.81,417.69" fill="#111" stroke="#111" stroke-width="0.35" stroke-linejoin="round"/>
<polygon points="456.80,416.30 457.39,417.69 458.89,417.82 457.75,418.81 458.09,420.28 456.80,419.50 455.51,420.28 455.85,418.81 454.71,417.82 456.21,417.69" fill="#111" stroke="#111" stroke-width="0.35" stroke-linejoin="round"/>
<line x1="368.40" y1="480.40" x2="368.40" y2="583.80" stroke="#555" stroke-width="1"/>
<line x1="365.60" y1="480.40" x2="368.40" y2="480.40" stroke="#555" stroke-width="1"/>
<line x1="365.60" y1="500.60" x2="368.40" y2="500.60" stroke="#555" stroke-width="1"/>
<line x1="365.60" y1="520.70" x2="368.40" y2="520.70" stroke="#555" stroke-width="1"/>
<line x1="365.60" y1="540.90" x2="368.40" y2="540.90" stroke="#555" stroke-width="1"/>
<line x1="365.60" y1="561.00" x2="368.40" y2="561.00" stroke="#555" stroke-width="1"/>
<line x1="365.60" y1="581.30" x2="368.40" y2="581.30" stroke="#555" stroke-width="1"/>
<line x1="368.40" y1="581.30" x2="471.90" y2="581.30" stroke="#555" stroke-width="1"/>
<line x1="471.90" y1="581.30" x2="471.90" y2="584.30" stroke="#555" stroke-width="1"/>
<text x="362.80" y="485.00" font-size="11.86" text-anchor="end" font-weight="bold" font-style="normal" textLength="7.90" lengthAdjust="spacingAndGlyphs" stroke="#000" stroke-width="0.35">25</text>
<text x="362.80" y="505.20" font-size="11.86" text-anchor="end" font-weight="bold" font-style="normal" textLength="7.90" lengthAdjust="spacingAndGlyphs" stroke="#000" stroke-width="0.35">20</text>
<text x="362.80" y="525.30" font-size="11.86" text-anchor="end" font-weight="bold" font-style="normal" textLength="7.60" lengthAdjust="spacingAndGlyphs" stroke="#000" stroke-width="0.35">15</text>
<text x="362.80" y="545.50" font-size="11.86" text-anchor="end" font-weight="bold" font-style="normal" textLength="7.60" lengthAdjust="spacingAndGlyphs" stroke="#000" stroke-width="0.35">10</text>
<text x="362.80" y="565.60" font-size="11.86" text-anchor="end" font-weight="bold" font-style="normal" textLength="4.00" lengthAdjust="spacingAndGlyphs" stroke="#000" stroke-width="0.35">5</text>
<text x="362.80" y="585.90" font-size="11.86" text-anchor="end" font-weight="bold" font-style="normal" textLength="3.70" lengthAdjust="spacingAndGlyphs" stroke="#000" stroke-width="0.35">0</text>
<text transform="translate(345.0,580.6) rotate(-90)" font-size="12" font-weight="bold" textLength="100.7" lengthAdjust="spacingAndGlyphs">O<tspan font-size="7" dy="-4">-</tspan><tspan font-size="7" dy="6" dx="0.8">2</tspan><tspan dy="-2"> nM × 10</tspan><tspan font-size="7.5" dy="-4.2">6</tspan><tspan dy="4.2"> cells</tspan></text>
<rect x="369.20" y="580.80" width="27.00" height="0.50" fill="#c4c4c4" stroke="#444" stroke-width="1"/>
<line x1="408.35" y1="557.00" x2="408.35" y2="551.90" stroke="#2e2e2e" stroke-width="1"/>
<line x1="407.15" y1="551.90" x2="409.55" y2="551.90" stroke="#2e2e2e" stroke-width="1"/>
<rect x="396.20" y="557.00" width="24.30" height="24.30" fill="#c4c4c4" stroke="#444" stroke-width="1"/>
<line x1="432.35" y1="565.10" x2="432.35" y2="562.80" stroke="#2e2e2e" stroke-width="1"/>
<line x1="431.15" y1="562.80" x2="433.55" y2="562.80" stroke="#2e2e2e" stroke-width="1"/>
<rect x="420.50" y="565.10" width="23.70" height="16.20" fill="#c4c4c4" stroke="#444" stroke-width="1"/>
<line x1="456.10" y1="573.40" x2="456.10" y2="571.10" stroke="#2e2e2e" stroke-width="1"/>
<line x1="454.90" y1="571.10" x2="457.30" y2="571.10" stroke="#2e2e2e" stroke-width="1"/>
<rect x="444.20" y="573.40" width="23.80" height="7.90" fill="#c4c4c4" stroke="#444" stroke-width="1"/>
<polygon points="408.00,543.50 408.59,544.89 410.09,545.02 408.95,546.01 409.29,547.48 408.00,546.70 406.71,547.48 407.05,546.01 405.91,545.02 407.41,544.89" fill="#111" stroke="#111" stroke-width="0.35" stroke-linejoin="round"/>
<polygon points="429.80,555.50 430.39,556.89 431.89,557.02 430.75,558.01 431.09,559.48 429.80,558.70 428.51,559.48 428.85,558.01 427.71,557.02 429.21,556.89" fill="#111" stroke="#111" stroke-width="0.35" stroke-linejoin="round"/>
<polygon points="434.20,555.50 434.79,556.89 436.29,557.02 435.15,558.01 435.49,559.48 434.20,558.70 432.91,559.48 433.25,558.01 432.11,557.02 433.61,556.89" fill="#111" stroke="#111" stroke-width="0.35" stroke-linejoin="round"/>
<polygon points="451.40,564.30 451.99,565.69 453.49,565.82 452.35,566.81 452.69,568.28 451.40,567.50 450.11,568.28 450.45,566.81 449.31,565.82 450.81,565.69" fill="#111" stroke="#111" stroke-width="0.35" stroke-linejoin="round"/>
<polygon points="455.80,564.30 456.39,565.69 457.89,565.82 456.75,566.81 457.09,568.28 455.80,567.50 454.51,568.28 454.85,566.81 453.71,565.82 455.21,565.69" fill="#111" stroke="#111" stroke-width="0.35" stroke-linejoin="round"/>
<polygon points="460.20,564.30 460.79,565.69 462.29,565.82 461.15,566.81 461.49,568.28 460.20,567.50 458.91,568.28 459.25,566.81 458.11,565.82 459.61,565.69" fill="#111" stroke="#111" stroke-width="0.35" stroke-linejoin="round"/>
<text x="328.50" y="602.80" font-size="12.2" text-anchor="start" font-weight="bold" font-style="normal" textLength="33.70" lengthAdjust="spacingAndGlyphs">PMNs</text>
<text x="328.50" y="616.20" font-size="12.2" text-anchor="start" font-weight="bold" font-style="normal" textLength="44.10" lengthAdjust="spacingAndGlyphs">Conidia</text>
<text x="328.50" y="632.20" font-size="12.2" text-anchor="start" font-weight="bold" font-style="normal">CD25<tspan font-size="7.5" dy="-3.7">+(a)</tspan></text>
<text x="328.50" y="647.80" font-size="12.2" text-anchor="start" font-weight="bold" font-style="normal">CD25<tspan font-size="7.5" dy="-3.7">+(b)</tspan></text>
<path d="M379.00 597.00H385.20M382.10 594.10V599.90" stroke="#000" stroke-width="1.5" fill="none"/>
<path d="M405.00 597.00H411.20M408.10 594.10V599.90" stroke="#000" stroke-width="1.5" fill="none"/>
<path d="M428.40 597.00H434.60M431.50 594.10V599.90" stroke="#000" stroke-width="1.5" fill="none"/>
<path d="M451.90 597.00H458.10M455.00 594.10V599.90" stroke="#000" stroke-width="1.5" fill="none"/>
<path d="M378.60 609.30H385.60" stroke="#000" stroke-width="1.4" fill="none"/>
<path d="M405.00 610.10H411.20M408.10 607.20V613.00" stroke="#000" stroke-width="1.5" fill="none"/>
<path d="M428.40 610.10H434.60M431.50 607.20V613.00" stroke="#000" stroke-width="1.5" fill="none"/>
<path d="M451.90 610.10H458.10M455.00 607.20V613.00" stroke="#000" stroke-width="1.5" fill="none"/>
<path d="M378.60 625.20H385.60" stroke="#000" stroke-width="1.4" fill="none"/>
<path d="M404.60 625.20H411.60" stroke="#000" stroke-width="1.4" fill="none"/>
<path d="M428.40 626.00H434.60M431.50 623.10V628.90" stroke="#000" stroke-width="1.5" fill="none"/>
<path d="M451.50 625.20H458.50" stroke="#000" stroke-width="1.4" fill="none"/>
<path d="M378.60 641.20H385.60" stroke="#000" stroke-width="1.4" fill="none"/>
<path d="M404.60 641.20H411.60" stroke="#000" stroke-width="1.4" fill="none"/>
<path d="M428.00 641.20H435.00" stroke="#000" stroke-width="1.4" fill="none"/>
<path d="M451.90 642.00H458.10M455.00 639.10V644.90" stroke="#000" stroke-width="1.5" fill="none"/>
</svg>
</body></html>
